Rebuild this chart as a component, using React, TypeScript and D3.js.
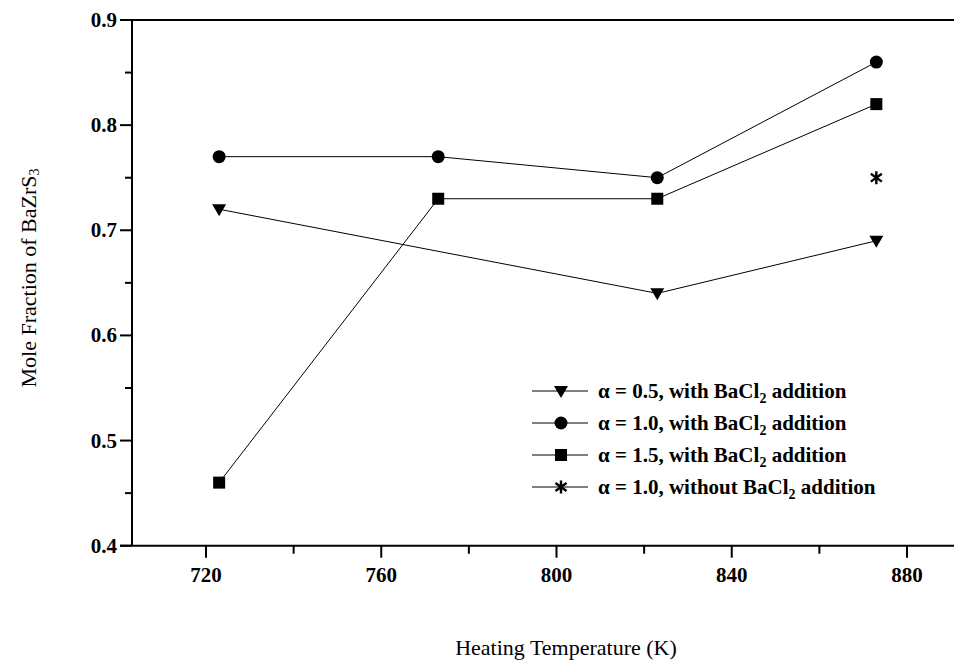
import React from "react";
import * as d3 from "d3";

const temps05 = [723, 823, 873];
const vals05 = [0.72, 0.64, 0.69];
const temps10 = [723, 773, 823, 873];
const vals10 = [0.77, 0.77, 0.75, 0.86];
const temps15 = [723, 773, 823, 873];
const vals15 = [0.46, 0.73, 0.73, 0.82];
const tempsNo = [873];
const valsNo = [0.75];

const xMajor = [720, 760, 800, 840, 880];
const xMinor = [740, 780, 820, 860];
const yMajor = [0.4, 0.5, 0.6, 0.7, 0.8, 0.9];
const yMinor = [0.45, 0.55, 0.65, 0.75, 0.85];

const legendItems = [
  { pre: "α = 0.5, with BaCl", post: " addition", sym: "tri" },
  { pre: "α = 1.0, with BaCl", post: " addition", sym: "circle" },
  { pre: "α = 1.5, with BaCl", post: " addition", sym: "square" },
  { pre: "α = 1.0, without BaCl", post: " addition", sym: "star" },
];

const W = 954;
const H = 663;
const FONT = "'Liberation Serif', 'Times New Roman', serif";

const x = d3.scaleLinear().domain([720, 880]).range([206, 907]);
const y = d3.scaleLinear().domain([0.4, 0.9]).range([545.7, 20]);
const xLeft = 132;
const xRight = W + 10;

function Marker({ sym, cx, cy }: { sym: string; cx: number; cy: number }) {
  if (sym === "circle") return <circle cx={cx} cy={cy} r={6.5} fill="#000" />;
  if (sym === "square") return <rect x={cx - 6} y={cy - 6} width={12} height={12} fill="#000" />;
  if (sym === "tri") {
    const p = `M${cx - 7},${cy - 5} L${cx + 7},${cy - 5} L${cx},${cy + 7} Z`;
    return <path d={p} fill="#000" />;
  }
  const r = 6.5;
  const d = `M0,${-r}L0,${r}M${-r * 0.85},${-r * 0.6}L${r * 0.85},${r * 0.6}M${-r * 0.85},${r * 0.6}L${r * 0.85},${-r * 0.6}`;
  return <path d={d} transform={`translate(${cx},${cy})`} fill="none" stroke="#000" strokeWidth={2.4} />;
}

function Series({ xs, ys, sym }: { xs: number[]; ys: number[]; sym: string }) {
  const line = d3
    .line<number>()
    .x((_, i) => x(xs[i]))
    .y((d) => y(d));
  return (
    <g>
      {ys.length > 1 && <path d={line(ys) || ""} fill="none" stroke="#000" strokeWidth={1} />}
      {ys.map((v, i) => (
        <Marker key={i} sym={sym} cx={x(xs[i])} cy={y(v)} />
      ))}
    </g>
  );
}

export default function App() {
  const legendX = 532;
  const legendY0 = 391;
  const legendDy = 32;
  return (
    <svg width={W} height={H} style={{ position: "absolute", left: 0, top: 0, background: "#fff" }} fontFamily={FONT}>
      <rect width={W} height={H} fill="#fff" />
      {/* axes frame */}
      <line x1={xLeft} x2={xLeft} y1={y(0.9)} y2={y(0.4)} stroke="#000" strokeWidth={2} />
      <line x1={xLeft - 12} x2={xRight} y1={y(0.9)} y2={y(0.9)} stroke="#000" strokeWidth={2} />
      <line x1={xLeft - 12} x2={xRight} y1={y(0.4)} y2={y(0.4)} stroke="#000" strokeWidth={2} />
      {/* y ticks */}
      {yMajor.map((v) => (
        <g key={v}>
          <line x1={xLeft - 12} x2={xLeft} y1={y(v)} y2={y(v)} stroke="#000" strokeWidth={2} />
          <text x={xLeft - 15} y={y(v)} textAnchor="end" dominantBaseline="central" fontSize={21} fontWeight="bold">
            {v.toFixed(1)}
          </text>
        </g>
      ))}
      {yMinor.map((v) => (
        <line key={v} x1={xLeft - 7} x2={xLeft} y1={y(v)} y2={y(v)} stroke="#000" strokeWidth={2} />
      ))}
      {/* x ticks */}
      {xMajor.map((v) => (
        <g key={v}>
          <line x1={x(v)} x2={x(v)} y1={y(0.4)} y2={y(0.4) + 12} stroke="#000" strokeWidth={2} />
          <text x={x(v)} y={582} textAnchor="middle" fontSize={21} fontWeight="bold">
            {v}
          </text>
        </g>
      ))}
      {xMinor.map((v) => (
        <line key={v} x1={x(v)} x2={x(v)} y1={y(0.4)} y2={y(0.4) + 8} stroke="#000" strokeWidth={2} />
      ))}
      {/* axis titles */}
      <text x={566} y={655} textAnchor="middle" fontSize={22}>
        Heating Temperature (K)
      </text>
      <text transform={`translate(28,${278}) rotate(-90)`} textAnchor="middle" dominantBaseline="central" fontSize={22}>
        Mole Fraction of BaZrS<tspan fontSize={14} dy={6}>3</tspan>
      </text>
      {/* data */}
      <Series xs={temps05} ys={vals05} sym="tri" />
      <Series xs={temps10} ys={vals10} sym="circle" />
      <Series xs={temps15} ys={vals15} sym="square" />
      <Series xs={tempsNo} ys={valsNo} sym="star" />
      {/* legend */}
      {legendItems.map((it, i) => {
        const cy = legendY0 + i * legendDy;
        return (
          <g key={i}>
            <line x1={legendX} x2={legendX + 56} y1={cy} y2={cy} stroke="#000" strokeWidth={1} />
            <Marker sym={it.sym} cx={legendX + 29} cy={cy} />
            <text x={legendX + 66} y={cy + 7} fontSize={21} fontWeight="bold">
              {it.pre}
              <tspan fontSize={14} dy={5}>2</tspan>
              <tspan dy={-5}>{it.post}</tspan>
            </text>
          </g>
        );
      })}
    </svg>
  );
}
